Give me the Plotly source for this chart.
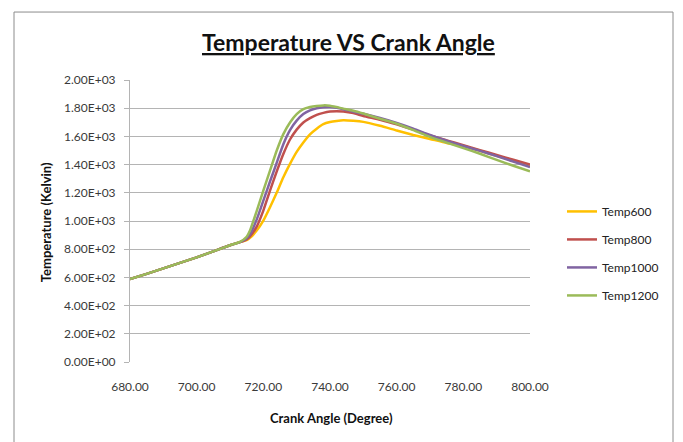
import plotly.graph_objects as go

# crank angle (degree)
crank_angle = [680, 685, 690, 695, 700, 705, 710, 713, 715, 716, 718, 720, 722, 724, 726, 728, 730,
               732, 734, 736, 738, 740, 742, 744, 747, 750, 755, 760, 765, 770, 775, 780,
               785, 790, 795, 800]

temp600 = [588, 625, 664, 703, 742, 785, 828, 850, 864, 880, 932, 1003, 1098, 1200, 1310, 1405, 1490,
           1557, 1615, 1655, 1687, 1702, 1710, 1715, 1711, 1703, 1675, 1642, 1610, 1582, 1553, 1532,
           1498, 1462, 1426, 1392]
temp800 = [588, 625, 664, 703, 742, 785, 828, 850, 870, 890, 960, 1074, 1215, 1350, 1475, 1578, 1648,
           1699, 1730, 1753, 1767, 1776, 1778, 1776, 1765, 1745, 1718, 1685, 1648, 1607, 1572, 1537,
           1503, 1468, 1434, 1400]
temp1000 = [588, 625, 664, 703, 742, 785, 828, 850, 878, 905, 1010, 1145, 1280, 1412, 1545, 1645, 1712,
            1758, 1785, 1800, 1807, 1809, 1803, 1793, 1775, 1760, 1730, 1695, 1655, 1610, 1570, 1532,
            1497, 1460, 1421, 1382]
temp1200 = [588, 625, 664, 703, 742, 785, 828, 852, 888, 932, 1070, 1216, 1357, 1498, 1616, 1699, 1758,
            1793, 1808, 1816, 1820, 1818, 1808, 1797, 1782, 1762, 1725, 1690, 1645, 1597, 1556, 1517,
            1477, 1433, 1392, 1352]

y_ticks = [0, 200, 400, 600, 800, 1000, 1200, 1400, 1600, 1800, 2000]
y_labels = ["0.00E+00", "2.00E+02", "4.00E+02", "6.00E+02", "8.00E+02", "1.00E+03",
            "1.20E+03", "1.40E+03", "1.60E+03", "1.80E+03", "2.00E+03"]
x_ticks = [680, 700, 720, 740, 760, 780, 800]

series = [("Temp600", temp600, "#FFC000"),
          ("Temp800", temp800, "#C0504D"),
          ("Temp1000", temp1000, "#8064A2"),
          ("Temp1200", temp1200, "#9BBB59")]

fig = go.Figure()
for name, vals, col in series:
    fig.add_trace(go.Scatter(x=crank_angle, y=vals, mode="lines", name=name, legendgroup=name,
                             line=dict(color=col, width=2.5, shape="spline", smoothing=0.5)))

font = "Lato, 'Open Sans', sans-serif"
fig.update_layout(
    width=675, height=434,
    margin=dict(l=122, r=153, t=72, b=80),
    plot_bgcolor="white", paper_bgcolor="white",
    font=dict(family=font, size=12, color="#3a3a3a"),
    showlegend=True,
    legend=dict(x=1.08, y=0.385, xanchor="left", yanchor="middle", tracegroupgap=9,
                itemwidth=30, font=dict(size=12, color="#222"), bgcolor="rgba(0,0,0,0)"),
    xaxis=dict(range=[680, 800], tickvals=x_ticks, tickformat=".2f",
               showgrid=False, zeroline=False, showline=False, ticks="", ticklabelstandoff=16),
    yaxis=dict(range=[0, 2000], tickvals=y_ticks, ticktext=y_labels, showgrid=True, gridcolor="#b4b4b4",
               gridwidth=1, zeroline=False, showline=True, linecolor="#b4b4b4", ticks="outside",
               ticklen=5, tickcolor="#b4b4b4", ticklabelstandoff=6),
    annotations=[
        dict(text="<b><u>Temperature VS Crank Angle</u></b>", x=0.545, y=1.135, xref="paper", yref="paper",
             xanchor="center", yanchor="middle", showarrow=False, font=dict(size=23, color="#111")),
        dict(text="<b>Crank Angle (Degree)</b>", x=0.5025, y=-0.199, xref="paper", yref="paper",
             xanchor="center", yanchor="middle", showarrow=False, font=dict(size=13, color="#111")),
        dict(text="<b>Temperature (Kelvin)</b>", x=-0.21, y=0.496, xref="paper", yref="paper",
             xanchor="center", yanchor="middle", showarrow=False, textangle=-90,
             font=dict(size=13, color="#111")),
    ],
    shapes=[dict(type="rect", xref="paper", yref="paper", x0=-0.29, x1=1.3575, y0=-0.4, y1=1.241,
                 line=dict(color="#8c8c8c", width=1), layer="below")],
)
fig.write_html("out.html")
